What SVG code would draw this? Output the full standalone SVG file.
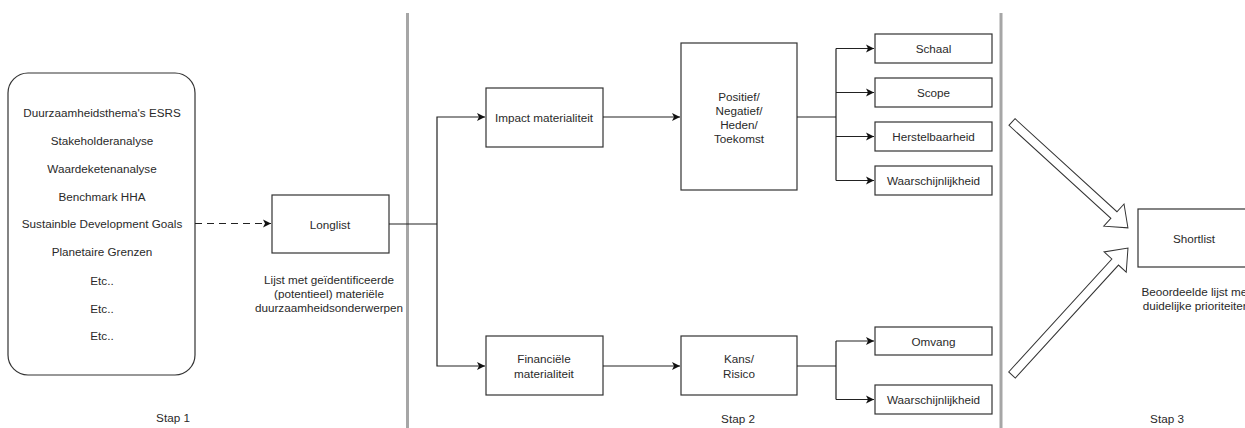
<svg xmlns="http://www.w3.org/2000/svg" width="1245" height="428" viewBox="0 0 1245 428">
<style>
text{font-family:"Liberation Sans",Arial,sans-serif;font-size:11.7px;fill:#2a2a2a;text-anchor:middle;dominant-baseline:central}
.box{fill:#fff;stroke:#333;stroke-width:1.2}
.ln{fill:none;stroke:#222;stroke-width:1.2}
.sep{stroke:#a6a6a6;stroke-width:3}
.blk{fill:#fff;stroke:#333;stroke-width:1}
</style>
<defs>
<marker id="ah" markerWidth="10" markerHeight="10" refX="8" refY="5" orient="auto" markerUnits="userSpaceOnUse">
<path d="M0,1 L8,5 L0,9 L2,5 Z" fill="#111"/>
</marker>
</defs>
<rect width="1245" height="428" fill="#fff"/>
<line class="sep" x1="407.5" y1="13" x2="407.5" y2="428"/>
<line class="sep" x1="1001" y1="13" x2="1001" y2="428"/>

<g id="sources">
<rect class="box" x="8" y="73" width="187" height="302" rx="20"/>
<text x="102" y="112">Duurzaamheidsthema's ESRS</text>
<text x="102" y="140">Stakeholderanalyse</text>
<text x="102" y="168">Waardeketenanalyse</text>
<text x="102" y="196">Benchmark HHA</text>
<text x="102" y="223">Sustainble Development Goals</text>
<text x="102" y="251">Planetaire Grenzen</text>
<text x="102" y="280">Etc..</text>
<text x="102" y="308">Etc..</text>
<text x="102" y="335">Etc..</text>
</g>
<text x="173" y="417">Stap 1</text>

<g id="longlist">
<rect class="box" x="272" y="195" width="117" height="58"/>
<text x="330" y="224">Longlist</text>
<text x="329" y="279">Lijst met geïdentificeerde</text>
<text x="329" y="293">(potentieel) materiële</text>
<text x="329" y="307">duurzaamheidsonderwerpen</text>
</g>

<g id="impact">
<rect class="box" x="486" y="88" width="117" height="59"/>
<text x="544" y="117">Impact materialiteit</text>
</g>
<g id="posneg">
<rect class="box" x="681" y="43" width="116" height="147"/>
<text x="739" y="96">Positief/</text>
<text x="739" y="110">Negatief/</text>
<text x="739" y="124">Heden/</text>
<text x="739" y="138">Toekomst</text>
</g>
<g id="schaal"><rect class="box" x="875" y="34" width="117" height="29"/><text x="933.5" y="48.5">Schaal</text></g>
<g id="scope"><rect class="box" x="875" y="78" width="117" height="29"/><text x="933.5" y="92.5">Scope</text></g>
<g id="herstel"><rect class="box" x="875" y="122" width="117" height="29"/><text x="933.5" y="136.5">Herstelbaarheid</text></g>
<g id="waarsch1"><rect class="box" x="875" y="166" width="117" height="29"/><text x="933.5" y="180.5">Waarschijnlijkheid</text></g>

<g id="financieel">
<rect class="box" x="486" y="336" width="117" height="59"/>
<text x="544" y="358">Financiële</text>
<text x="544" y="373">materialiteit</text>
</g>
<g id="kans">
<rect class="box" x="681" y="336" width="116" height="59"/>
<text x="739" y="358">Kans/</text>
<text x="739" y="373">Risico</text>
</g>
<g id="omvang"><rect class="box" x="875" y="327" width="117" height="28"/><text x="933.5" y="341">Omvang</text></g>
<g id="waarsch2"><rect class="box" x="875" y="385" width="117" height="29"/><text x="933.5" y="399.5">Waarschijnlijkheid</text></g>
<text x="738" y="418">Stap 2</text>

<g id="shortlist">
<rect class="box" x="1138" y="209" width="120" height="58"/>
<text x="1194" y="238">Shortlist</text>
<text x="1196" y="291">Beoordeelde lijst met</text>
<text x="1196" y="305">duidelijke prioriteiten</text>
</g>
<text x="1167" y="418">Stap 3</text>

<g id="connectors">
<line class="ln" x1="195" y1="223.5" x2="271" y2="223.5" stroke-dasharray="7,5" marker-end="url(#ah)"/>
<polyline class="ln" points="389,224 437,224"/>
<polyline class="ln" points="437,224 437,117 485,117" marker-end="url(#ah)"/>
<polyline class="ln" points="437,224 437,366 485,366" marker-end="url(#ah)"/>
<line class="ln" x1="603" y1="117" x2="680" y2="117" marker-end="url(#ah)"/>
<line class="ln" x1="603" y1="366" x2="680" y2="366" marker-end="url(#ah)"/>
<polyline class="ln" points="797,117 836,117"/>
<polyline class="ln" points="836,48.5 836,180.5"/>
<line class="ln" x1="836" y1="48.5" x2="874" y2="48.5" marker-end="url(#ah)"/>
<line class="ln" x1="836" y1="92.5" x2="874" y2="92.5" marker-end="url(#ah)"/>
<line class="ln" x1="836" y1="136.5" x2="874" y2="136.5" marker-end="url(#ah)"/>
<line class="ln" x1="836" y1="180.5" x2="874" y2="180.5" marker-end="url(#ah)"/>
<polyline class="ln" points="797,366 836,366"/>
<polyline class="ln" points="836,341 836,399.5"/>
<line class="ln" x1="836" y1="341" x2="874" y2="341" marker-end="url(#ah)"/>
<line class="ln" x1="836" y1="399.5" x2="874" y2="399.5" marker-end="url(#ah)"/>
<polygon class="blk" transform="translate(1012,122) rotate(42.4)" points="0,-4.5 138,-4.5 138,-15 157,0 138,15 138,4.5 0,4.5"/>
<polygon class="blk" transform="translate(1012,375) rotate(-47.6)" points="0,-4.5 153,-4.5 153,-15 172,0 153,15 153,4.5 0,4.5"/>
</g>
</svg>
